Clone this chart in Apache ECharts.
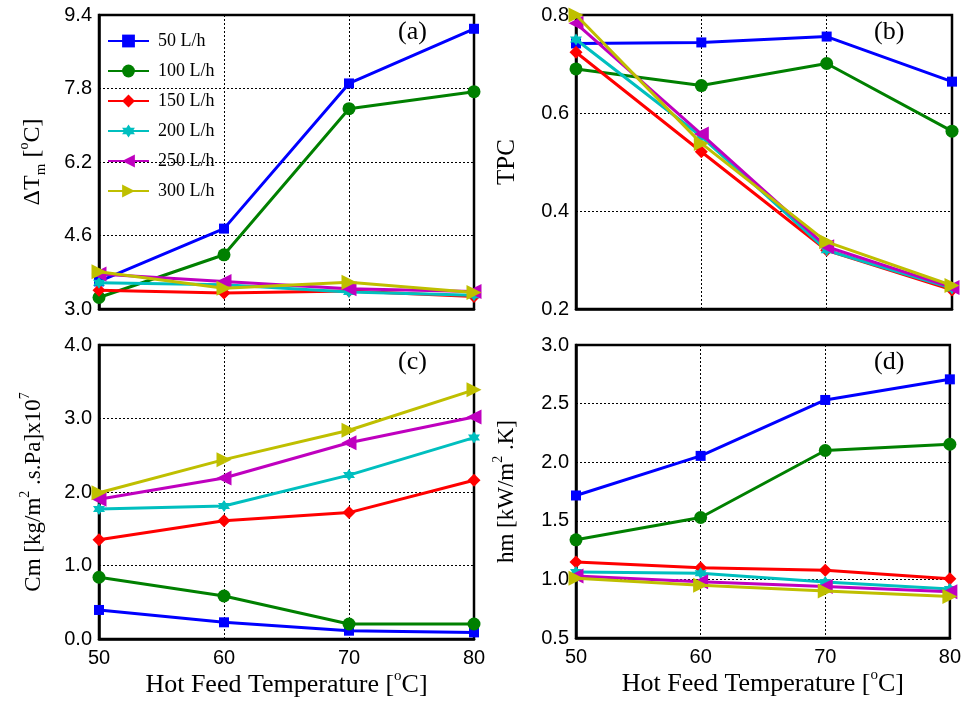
<!DOCTYPE html>
<html>
<head>
<meta charset="utf-8">
<script src="https://cdn.jsdelivr.net/npm/echarts@6/dist/echarts.min.js"></script>
<style>html,body{margin:0;padding:0;background:#fff}#c{width:964px;height:707px}</style>
</head>
<body>
<div id="c"></div>
<script>
const temps = [50, 60, 70, 80];
const seriesNames = ['50 L/h', '100 L/h', '150 L/h', '200 L/h', '250 L/h', '300 L/h'];
const xTicks = ['50', '60', '70', '80'];

// (a) Delta T_m [oC]
const dT_50 = [3.60, 4.75, 7.91, 9.10];
const dT_100 = [3.25, 4.18, 7.36, 7.73];
const dT_150 = [3.41, 3.35, 3.39, 3.27];
const dT_200 = [3.57, 3.53, 3.37, 3.30];
const dT_250 = [3.76, 3.60, 3.44, 3.38];
const dT_300 = [3.81, 3.45, 3.58, 3.36];

// (b) TPC
const tpc_50 = [0.742, 0.744, 0.756, 0.664];
const tpc_100 = [0.690, 0.656, 0.701, 0.563];
const tpc_150 = [0.724, 0.521, 0.320, 0.239];
const tpc_200 = [0.750, 0.552, 0.320, 0.242];
const tpc_250 = [0.783, 0.557, 0.327, 0.244];
const tpc_300 = [0.800, 0.538, 0.337, 0.248];

// (c) Cm [kg/m2.s.Pa]x10^7
const cm_50 = [0.395, 0.227, 0.113, 0.090];
const cm_100 = [0.840, 0.585, 0.204, 0.204];
const cm_150 = [1.35, 1.61, 1.72, 2.16];
const cm_200 = [1.77, 1.81, 2.23, 2.74];
const cm_250 = [1.90, 2.19, 2.67, 3.02];
const cm_300 = [1.99, 2.44, 2.84, 3.39];

// (d) hm [kW/m2.K]
const hm_50 = [1.716, 2.054, 2.531, 2.707];
const hm_100 = [1.338, 1.528, 2.100, 2.153];
const hm_150 = [1.148, 1.100, 1.078, 1.005];
const hm_200 = [1.063, 1.053, 0.978, 0.919];
const hm_250 = [1.030, 0.980, 0.940, 0.895];
const hm_300 = [1.010, 0.950, 0.900, 0.855];

const yTicksA = [3.0, 4.6, 6.2, 7.8, 9.4];
const yTicksB = [0.2, 0.4, 0.6, 0.8];
const yTicksC = [0.0, 1.0, 2.0, 3.0, 4.0];
const yTicksD = [0.5, 1.0, 1.5, 2.0, 2.5, 3.0];

const panelData = [
  [dT_50, dT_100, dT_150, dT_200, dT_250, dT_300],
  [tpc_50, tpc_100, tpc_150, tpc_200, tpc_250, tpc_300],
  [cm_50, cm_100, cm_150, cm_200, cm_250, cm_300],
  [hm_50, hm_100, hm_150, hm_200, hm_250, hm_300]
];
const panelTicks = [yTicksA, yTicksB, yTicksC, yTicksD];

const colors = ['#0000ff', '#008000', '#ff0000', '#00bfbf', '#bf00bf', '#bfbf00'];
const hexagram = 'path://M10 0 L12.89 5 L18.66 5 L15.77 10 L18.66 15 L12.89 15 L10 20 L7.11 15 L1.34 15 L4.23 10 L1.34 5 L7.11 5 Z';
const symbols = ['rect', 'circle', 'diamond', hexagram, 'triangle', 'triangle'];
const symbolSizes = [10, 13, 13, 12, 15, 15];
const symbolRot = [0, 0, 0, 0, 90, -90];

const SERIF = 'Liberation Serif';
const SANS = 'Liberation Sans';

const grids = [
  {left: 99, top: 15, width: 375, height: 294},
  {left: 576, top: 15, width: 376, height: 294},
  {left: 99, top: 345, width: 375, height: 294},
  {left: 576, top: 345, width: 376, height: 293}
];

const richBase = {
  t: {fontFamily: SERIF, fontSize: 24, color: '#000', lineHeight: 32},
  sup: {fontFamily: SERIF, fontSize: 14, color: '#000', verticalAlign: 'top', lineHeight: 15},
  sub: {fontFamily: SERIF, fontSize: 15, color: '#000', verticalAlign: 'bottom', lineHeight: 15}
};

const yNames = [
  '{t|ΔT}{sub|m}{t| [}{sup|o}{t|C]}',
  '{t|TPC}',
  '{t|Cm [kg/m}{sup|2}{t| .s.Pa]x10}{sup|7}',
  '{t|hm [kW/m}{sup|2}{t| .K]}'
];
const yNameGaps = [50, 53, 49, 53];
const yNameSizes = [24, 25, 23, 23];

const xAxes = grids.map((g, i) => ({
  type: 'value', gridIndex: i, min: 50, max: 80, interval: 10,
  axisLine: {show: true, lineStyle: {color: '#000', width: 2.5}},
  axisTick: {show: false},
  axisLabel: {show: i >= 2, fontFamily: SANS, fontSize: 20, color: '#000', margin: 9,
    formatter: v => xTicks[temps.indexOf(v)] || ''},
  splitLine: {show: true, lineStyle: {color: '#000', type: [2, 2], width: 1}},
  name: i >= 2 ? '{t|Hot Feed Temperature [}{sup|o}{t|C]}' : '',
  nameLocation: 'middle', nameGap: 30,
  nameTextStyle: {rich: {
    t: {fontFamily: SERIF, fontSize: 26, color: '#000', lineHeight: 32},
    sup: {fontFamily: SERIF, fontSize: 15, color: '#000', verticalAlign: 'top', lineHeight: 16}
  }}
}));

const yAxes = grids.map((g, i) => {
  const tk = panelTicks[i];
  const rich = JSON.parse(JSON.stringify(richBase));
  rich.t.fontSize = yNameSizes[i];
  return {
    type: 'value', gridIndex: i, min: tk[0], max: tk[tk.length - 1],
    interval: Math.round((tk[1] - tk[0]) * 10) / 10,
    axisLine: {show: true, lineStyle: {color: '#000', width: 2.5}},
    axisTick: {show: false},
    axisLabel: {fontFamily: SANS, fontSize: 20, color: '#000', margin: 7,
      formatter: v => v.toFixed(1)},
    splitLine: {show: true, lineStyle: {color: '#000', type: [2, 2], width: 1}},
    name: yNames[i], nameLocation: 'middle', nameRotate: 90, nameGap: yNameGaps[i],
    nameTextStyle: {rich: rich}
  };
});

const series = [];
panelData.forEach((pd, p) => {
  pd.forEach((vals, s) => {
    series.push({
      name: seriesNames[s], type: 'line', xAxisIndex: p, yAxisIndex: p,
      data: temps.map((t, k) => [t, vals[k]]),
      symbol: symbols[s], symbolSize: symbolSizes[s], symbolRotate: symbolRot[s],
      showAllSymbol: true, clip: false,
      lineStyle: {color: colors[s], width: 3},
      itemStyle: {color: colors[s]},
      emphasis: {disabled: true},
      animation: false, z: 3 + s
    });
  });
});

const labels = [
  {text: '(a)', left: 398, top: 19},
  {text: '(b)', left: 874, top: 19},
  {text: '(c)', left: 398, top: 349},
  {text: '(d)', left: 874, top: 349}
];

const option = {
  backgroundColor: '#fff',
  animation: false,
  grid: grids.map(g => Object.assign({show: true, borderColor: '#000', borderWidth: 2.5, backgroundColor: 'transparent'}, g)),
  xAxis: xAxes,
  yAxis: yAxes,
  legend: {
    data: seriesNames, orient: 'vertical', left: 107, top: 32, padding: 0,
    itemWidth: 41, itemHeight: 16, itemGap: 12,
    textStyle: {fontFamily: SERIF, fontSize: 18, color: '#000', padding: [0, 0, 0, 4]},
    backgroundColor: 'transparent', borderWidth: 0
  },
  title: labels.map(l => ({text: l.text, left: l.left, top: l.top, padding: 0,
    textStyle: {fontFamily: SERIF, fontSize: 26, fontWeight: 'normal', color: '#000'}})),
  series: series
};

const chart = echarts.init(document.getElementById('c'), null, {renderer: 'canvas'});
chart.setOption(option);
</script>
</body>
</html>
